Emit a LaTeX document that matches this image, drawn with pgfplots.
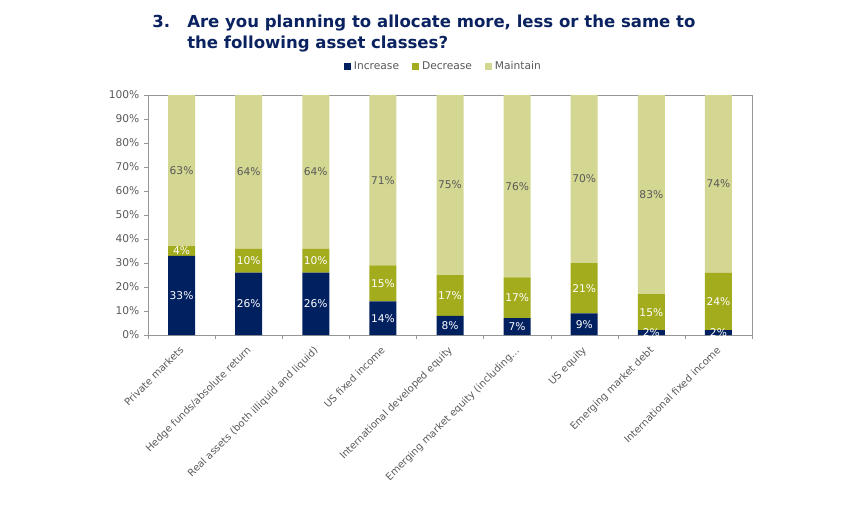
\documentclass[border=0pt]{standalone}
\usepackage{fontspec}
\setmainfont{DejaVu Sans}
\usepackage{pgfplots}
\usepackage{pgfplotstable}
\pgfplotsset{compat=1.18}
\definecolor{navy}{RGB}{0,32,96}
\definecolor{olive}{RGB}{163,172,28}
\definecolor{pale}{RGB}{211,215,146}
\definecolor{txtgray}{RGB}{89,89,89}
\definecolor{axgray}{RGB}{150,150,150}
\definecolor{titlecol}{RGB}{10,34,96}

\pgfplotstableread{
x inc dec mai
0 33 4 63
1 26 10 64
2 26 10 64
3 14 15 71
4 8 17 75
5 7 17 76
6 9 21 70
7 2 15 83
8 2 24 74
}\datatable

\pgfplotsset{
  centered labels/.style={
    nodes near coords={\pgfmathprintnumber{\pgfplotspointmeta}\%},
    nodes near coords align=center,
    every node near coord/.append style={anchor=center, font=\fontsize{8}{9}\selectfont, text=#1, inner sep=0pt},
  },
}

\begin{document}
\begin{tikzpicture}
\useasboundingbox (0,0) rectangle (633.75pt,383.25pt);
\begin{axis}[
  at={(111pt,132pt)}, anchor=south west,
  scale only axis, width=453pt, height=180pt,
  ybar stacked, bar width=20.25pt,
  xmin=-0.5, xmax=8.5, ymin=0, ymax=100,
  ytick={0,10,...,100},
  yticklabel={\pgfmathprintnumber{\tick}\%},
  /pgf/number format/assume math mode=true,
  xtick={0,...,8},
  xticklabels={Private markets, Hedge funds/absolute return, Real assets (both illiquid and liquid), US fixed income, International developed equity, Emerging market equity (including…, US equity, Emerging market debt, International fixed income},
  x tick label style={xshift=-2pt, yshift=-3.3pt, rotate=45, anchor=north east, font=\fontsize{7.5}{9}\selectfont, text=txtgray, inner sep=1pt},
  y tick label style={font=\fontsize{8}{9}\selectfont, text=txtgray},
  major x tick style={draw=none},
  minor xtick={-0.5,0.5,...,8.5},
  tick align=outside, tick pos=left,
  axis line style={axgray},
  tick style={axgray},
  major tick length=3pt, minor tick length=3pt,
  legend style={at={(0.49,1.12)}, anchor=center, draw=none, legend columns=3, font=\fontsize{8}{9}\selectfont, text=txtgray, /tikz/every even column/.append style={column sep=8pt}},
  legend image code/.code={\fill[#1] (0pt,-2.6pt) rectangle (5.2pt,2.6pt);},
]
\addplot[fill=navy, draw=none, centered labels=white] table[x=x, y=inc] {\datatable};
\addlegendentry{Increase}
\addplot[fill=olive, draw=none, centered labels=white] table[x=x, y=dec] {\datatable};
\addlegendentry{Decrease}
\addplot[fill=pale, draw=none, centered labels=txtgray] table[x=x, y=mai] {\datatable};
\addlegendentry{Maintain}
\end{axis}
\node[anchor=base west, text=titlecol, font=\fontsize{12.4}{15}\selectfont\bfseries, inner sep=0pt] at (114pt,362.5pt) {3.};
\node[anchor=base west, text=titlecol, font=\fontsize{12.4}{15}\selectfont\bfseries, inner sep=0pt] at (140.25pt,362.5pt) {Are you planning to allocate more, less or the same to};
\node[anchor=base west, text=titlecol, font=\fontsize{12.4}{15}\selectfont\bfseries, inner sep=0pt] at (140.25pt,346.5pt) {the following asset classes?};
\end{tikzpicture}
\end{document}
